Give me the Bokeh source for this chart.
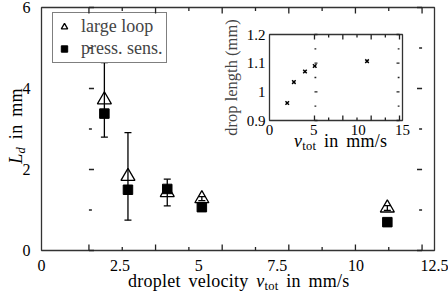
from bokeh.plotting import figure
from bokeh.models import (ColumnDataSource, FixedTicker, Range1d, Whisker, TeeHead, Div)
from bokeh.layouts import column
from bokeh.embed import file_html
from bokeh.resources import INLINE

# ---------------- data ----------------
velocity = [2.0, 2.75, 4.0, 5.1, 11.0]          # droplet velocity v_tot in mm/s
loop_ld = [3.72, 1.83, 1.43, 1.28, 1.05]        # large loop L_d (mm)
loop_err = [0.92, 1.08, 0.33, 0.05, 0.06]       # error of large loop
press_ld = [3.38, 1.50, 1.52, 1.07, 0.70]       # press. sens. L_d (mm)
drop_length = [0.961, 1.034, 1.071, 1.090, 1.107]  # inset: drop length (mm)

x_ticks = [0, 2.5, 5, 7.5, 10, 12.5]
x_tick_labels = ["0", "2.5", "5", "7.5", "10", "12.5"]
x_minor = [1.25, 3.75, 6.25, 8.75, 11.25]
y_ticks = [0, 2, 4, 6]
y_tick_labels = ["0", "2", "4", "6"]
y_minor = [1, 3, 5]

in_x_ticks = [0, 5, 10, 15]
in_x_tick_labels = ["0", "5", "10", "15"]
in_x_minor = [2.5, 7.5, 12.5]
in_y_ticks = [0.9, 1, 1.1, 1.2]
in_y_tick_labels = ["0.9", "1", "1.1", "1.2"]
in_y_minor = [0.95, 1.05, 1.15]

series_names = ["large loop", "press. sens."]
SUB = '<span style="font-size:12.5px;line-height:0;vertical-align:-0.22em">'
x_label_html = f'droplet velocity <i>v</i>{SUB}tot</span> in mm/s'
y_label_html = f'<i>L</i>{SUB}<i>d</i></span> in mm'
inset_x_label_html = f'<i>v</i>{SUB}tot</span> in mm/s'
inset_y_label = "drop length (mm)"

FONT = "Liberation Serif"
CSS_FONT = "'Liberation Serif', 'Times New Roman', serif"
AX = "#333333"
PAGE_H = 294

# frame geometry (pixels, page coordinates)
MAIN_X_RANGE, MAIN_Y_RANGE = (0, 12.5), (0, 6)
MAIN_LEFT, MAIN_TOP, MAIN_FW, MAIN_FH = 39, 7, 395, 243
INSET_X_RANGE, INSET_Y_RANGE = (0, 15), (0.9, 1.2)
INSET_LEFT, INSET_TOP, INSET_FW, INSET_FH = 267, 34, 142, 86


def style_axis(ax, ticks, labels, fs, standoff):
    ax.ticker = FixedTicker(ticks=ticks)
    ax.major_label_overrides = {t: l for t, l in zip(ticks, labels)}
    ax.axis_label = None
    ax.axis_line_color = None
    ax.major_tick_in = 0
    ax.major_tick_out = 0
    ax.minor_tick_in = 0
    ax.minor_tick_out = 0
    ax.major_label_text_font = FONT
    ax.major_label_text_color = "black"
    ax.major_label_text_font_size = fs
    ax.major_label_standoff = standoff


def place(model, top, left, h):
    # stacked after the main figure with zero net height -> absolute-like placement
    model.margin = (top - PAGE_H, 0, PAGE_H - top - h, left)
    return model


def tick_overlay(xr, yr, left, top, fw, fh, xt, xm, yt, ym, big, small, pad=10):
    # transparent figure laid over a frame, slightly larger than it, that draws
    # the inward tick marks of all four frame sides
    ux = (xr[1] - xr[0]) / fw
    uy = (yr[1] - yr[0]) / fh
    o = figure(width=fw + 2 * pad, height=fh + 2 * pad,
               x_range=Range1d(xr[0] - pad * ux, xr[1] + pad * ux),
               y_range=Range1d(yr[0] - pad * uy, yr[1] + pad * uy),
               output_backend="svg", toolbar_location=None,
               x_axis_location=None, y_axis_location=None, min_border=0,
               outline_line_color=None, background_fill_color=None,
               border_fill_color=None)
    for g in o.grid:
        g.visible = False
    x0, y0, x1, y1 = [], [], [], []
    for ticks, ln in ((xt, big), (xm, small)):
        for t in ticks:
            x0 += [t, t]
            x1 += [t, t]
            y0 += [yr[0], yr[1]]
            y1 += [yr[0] + ln * uy, yr[1] - ln * uy]
    for ticks, ln in ((yt, big), (ym, small)):
        for t in ticks:
            y0 += [t, t]
            y1 += [t, t]
            x0 += [xr[0], xr[1]]
            x1 += [xr[0] + ln * ux, xr[1] - ln * ux]
    o.segment(x0, y0, x1, y1, line_color="#222222", line_width=1.3)
    return place(o, top - pad, left - pad, fh + 2 * pad)


def text_div(html, top, left, w, h, size="18px", extra=None):
    st = {"font-family": CSS_FONT, "font-size": size, "color": "black",
          "white-space": "nowrap", "line-height": f"{h}px",
          "letter-spacing": "0.25px", "word-spacing": "3px", "overflow": "visible"}
    if extra:
        st.update(extra)
    d = Div(text=html, width=w, height=h, styles=st)
    return place(d, top, left, h)


# ---------------- main figure ----------------
p = figure(width=468, height=PAGE_H,
           x_range=Range1d(*MAIN_X_RANGE), y_range=Range1d(*MAIN_Y_RANGE),
           output_backend="svg", toolbar_location=None,
           min_border_left=49, min_border_right=14,
           min_border_top=7, min_border_bottom=44,
           outline_line_color=AX, outline_line_width=1.3,
           background_fill_color="white", border_fill_color="white")
p.margin = (0, 0, 0, -10)
p.xgrid.grid_line_color = None
p.ygrid.grid_line_color = None
style_axis(p.xaxis[0], x_ticks, x_tick_labels, "16px", 9)
style_axis(p.yaxis[0], y_ticks, y_tick_labels, "16px", 11)

err_src = ColumnDataSource(dict(
    x=velocity,
    upper=[v + e for v, e in zip(loop_ld, loop_err)],
    lower=[v - e for v, e in zip(loop_ld, loop_err)],
))
p.add_layout(Whisker(source=err_src, base="x", upper="upper", lower="lower",
                     line_color="black", line_width=1.3,
                     upper_head=TeeHead(size=7, line_color="black", line_width=1.3),
                     lower_head=TeeHead(size=7, line_color="black", line_width=1.3)))

p.scatter(velocity, loop_ld, marker="triangle", size=14, fill_color=None,
          line_color="black", line_width=1.3, legend_label=series_names[0])
p.scatter(velocity, press_ld, marker="square", size=9.5, fill_color="black",
          line_color="black", legend_label=series_names[1])

lg = p.legend[0]
lg.location = (11, 187)
lg.label_text_font = FONT
lg.label_text_font_size = "18px"
lg.label_height = 19
lg.glyph_height = 19
lg.glyph_width = 16
lg.label_standoff = 9
lg.padding = 3
lg.spacing = 1
lg.margin = 0
lg.border_line_color = "black"
lg.border_line_width = 1.3
lg.background_fill_color = "white"
lg.background_fill_alpha = 1.0

main_ticks = tick_overlay(MAIN_X_RANGE, MAIN_Y_RANGE, MAIN_LEFT, MAIN_TOP, MAIN_FW, MAIN_FH,
                          x_ticks, x_minor, y_ticks, y_minor, 6, 3.5)

# ---------------- inset ----------------
inset = figure(width=198, height=147,
               x_range=Range1d(*INSET_X_RANGE), y_range=Range1d(*INSET_Y_RANGE),
               output_backend="svg", toolbar_location=None,
               min_border_left=49, min_border_right=7,
               min_border_top=26, min_border_bottom=35,
               outline_line_color=AX, outline_line_width=1.3,
               background_fill_color="white", border_fill_color=None)
inset.xgrid.grid_line_color = None
inset.ygrid.grid_line_color = None
style_axis(inset.xaxis[0], in_x_ticks, in_x_tick_labels, "15px", 4)
style_axis(inset.yaxis[0], in_y_ticks, in_y_tick_labels, "15px", 4)

yax = inset.yaxis[0]
yax.axis_label = inset_y_label
yax.axis_label_text_font = FONT
yax.axis_label_text_font_style = "normal"
yax.axis_label_text_font_size = "16.5px"
yax.axis_label_standoff = 3

inset.scatter(velocity, drop_length, marker="x", size=5, line_color="black", line_width=1.5)
place(inset, INSET_TOP - 26, INSET_LEFT - 49, 147)

inset_ticks = tick_overlay(INSET_X_RANGE, INSET_Y_RANGE, INSET_LEFT, INSET_TOP, INSET_FW, INSET_FH,
                           in_x_ticks, in_x_minor, in_y_ticks, in_y_minor, 5, 3)

# ---------------- axis titles (real HTML text) ----------------
xlab = text_div(x_label_html, 269, 128, 260, 24)
ylab = text_div(y_label_html, 115, -29, 90, 22,
                extra={"transform": "rotate(-90deg)", "text-align": "center"})
ixlab = text_div(inset_x_label_html, 130, 294, 130, 22)

root = column(p, main_ticks, inset, inset_ticks, xlab, ylab, ixlab)
open("out.html", "w").write(file_html(root, INLINE))
